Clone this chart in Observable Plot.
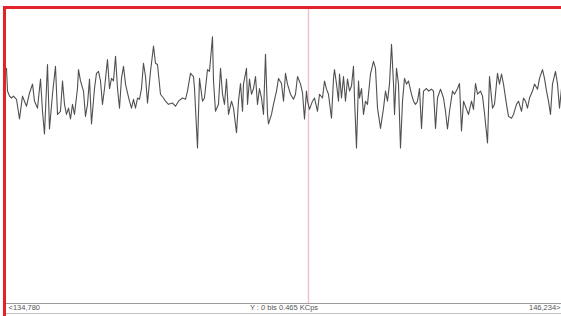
<!DOCTYPE html>
<html>
<head>
<meta charset="utf-8">
<script src="https://cdn.jsdelivr.net/npm/d3@7"></script>
<script src="https://cdn.jsdelivr.net/npm/@observablehq/plot@0.6"></script>
<style>
  html, body { margin: 0; padding: 0; background: #fff; }
  #wrap { position: relative; width: 561px; height: 316px; overflow: hidden; background: #fff; }
  #wrap svg { position: absolute; left: 0; top: 0; }
  #frame { position: absolute; left: 3px; top: 6px; right: -4px; bottom: -4px;
           border-left: 3px solid #e2232a; border-top: 3px solid #e2232a; pointer-events: none; }
  #strip { position: absolute; left: 6px; top: 313px; width: 555px; height: 1px; background: #c4c4c4; }
</style>
</head>
<body>
<div id="wrap"><div id="strip"></div><div id="frame"></div></div>
<script>
// Scan range (x) and intensity range (KCps)
const xRange = [134.780, 146.234];
const yRange = [0, 0.465];
const cursorPos = [141.013];
const leftLabel = "<134,780";
const rightLabel = "146,234>";
const rangeLabel = "Y : 0 bis 0.465 KCps";

const position = [
134.780,134.801,134.842,134.883,134.924,134.986,135.048,135.110,135.151,135.193,
135.255,135.317,135.358,135.420,135.482,135.523,135.564,135.626,135.667,135.729,
135.791,135.833,135.894,135.936,135.977,136.018,136.060,136.101,136.142,136.183,
136.245,136.266,136.307,136.369,136.410,136.452,136.493,136.534,136.596,136.637,
136.679,136.720,136.761,136.803,136.864,136.906,136.947,136.988,137.030,137.071,
137.112,137.153,137.195,137.236,137.277,137.318,137.360,137.401,137.442,137.484,
137.525,137.566,137.607,137.649,137.690,137.752,
137.814,137.855,137.896,137.958,138.020,138.061,138.123,138.206,138.268,138.330,
138.412,138.474,138.515,138.577,138.639,138.660,138.722,138.763,138.825,138.866,
138.928,138.969,139.031,139.052,139.093,139.155,139.197,139.238,139.279,139.320,
139.362,139.424,139.465,139.527,139.568,139.609,139.651,139.671,139.733,139.754,
139.795,139.836,139.878,139.919,139.960,140.001,140.043,140.084,140.125,140.167,
140.187,140.249,140.290,140.352,140.394,140.455,140.497,140.538,140.579,140.641,
140.703,140.744,140.786,140.848,140.889,140.930,140.971,
140.992,141.033,141.095,141.137,141.198,141.240,141.302,141.343,141.384,141.425,
141.487,141.529,141.549,141.591,141.632,141.653,141.694,141.735,141.776,141.818,
141.859,141.900,141.941,141.962,142.003,142.045,142.065,142.107,142.148,142.189,
142.230,142.292,142.354,142.395,142.437,142.499,142.561,142.602,142.643,142.684,
142.726,142.767,142.788,142.829,142.870,142.911,142.953,142.994,143.035,143.076,
143.138,143.180,143.221,143.262,143.303,143.345,143.386,143.448,143.489,143.551,
143.592,143.634,143.675,143.737,143.799,
143.840,143.881,143.923,143.985,144.026,144.088,144.129,144.170,144.212,144.274,
144.315,144.377,144.418,144.459,144.501,144.562,144.604,144.645,144.707,144.748,
144.810,144.851,144.913,144.955,144.996,145.037,145.099,145.140,145.202,145.244,
145.305,145.347,145.409,145.450,145.491,145.532,145.574,145.636,145.677,145.739,
145.780,145.842,145.883,145.925,145.966,146.007,146.048,146.110,146.152,146.193,
146.234
];

const kcps = [
0.372,0.336,0.328,0.325,0.328,0.323,0.292,0.328,0.320,0.312,
0.333,0.347,0.320,0.309,0.355,0.304,0.268,0.378,0.276,0.331,
0.375,0.299,0.304,0.352,0.315,0.299,0.309,0.292,0.315,0.299,
0.340,0.370,0.352,0.336,0.296,0.315,0.355,0.284,0.340,0.364,
0.367,0.352,0.315,0.340,0.386,0.340,0.356,0.352,0.391,0.340,
0.309,0.356,0.375,0.347,0.333,0.320,0.309,0.323,0.309,0.325,
0.323,0.340,0.380,0.359,0.317,0.367,
0.407,0.380,0.378,0.331,0.325,0.320,0.315,0.317,0.312,0.320,
0.325,0.323,0.336,0.364,0.359,0.340,0.246,0.356,0.320,0.325,
0.370,0.367,0.422,0.352,0.304,0.315,0.372,0.331,0.315,0.355,
0.299,0.320,0.309,0.270,0.320,0.348,0.304,0.347,0.372,0.315,
0.355,0.331,0.340,0.359,0.315,0.340,0.325,0.299,0.394,0.299,
0.284,0.299,0.315,0.336,0.356,0.348,0.320,0.364,0.347,0.331,
0.323,0.331,0.359,0.347,0.333,0.292,0.336,
0.320,0.307,0.320,0.325,0.304,0.331,0.325,0.352,0.339,0.331,
0.293,0.356,0.370,0.347,0.320,0.363,0.325,0.359,0.320,0.355,
0.336,0.344,0.375,0.325,0.246,0.352,0.325,0.340,0.299,0.320,
0.315,0.363,0.383,0.372,0.309,0.277,0.309,0.336,0.320,0.347,
0.410,0.347,0.299,0.372,0.347,0.246,0.320,0.356,0.347,0.352,
0.331,0.320,0.315,0.320,0.340,0.277,0.336,0.340,0.336,0.339,
0.336,0.277,0.325,0.339,0.325,
0.304,0.276,0.304,0.336,0.331,0.340,0.348,0.273,0.320,0.307,
0.299,0.320,0.307,0.348,0.331,0.336,0.328,0.301,0.254,0.359,
0.309,0.315,0.364,0.347,0.363,0.347,0.315,0.296,0.293,0.299,
0.315,0.320,0.304,0.325,0.320,0.309,0.325,0.336,0.347,0.339,
0.356,0.370,0.356,0.336,0.320,0.299,0.347,0.367,0.347,0.309,
0.340
];

const data = position.map((p, i) => ({pos: p, v: kcps[i]}));

const chart = Plot.plot({
  width: 561,
  height: 316,
  marginLeft: 6,
  marginRight: 0,
  marginTop: 9,
  marginBottom: 13,
  style: {background: "transparent", fontFamily: "Liberation Sans, Arial, sans-serif"},
  x: {domain: xRange, axis: null},
  y: {domain: yRange, axis: null},
  marks: [
    Plot.ruleX(cursorPos, {stroke: "#f0bfcb", strokeWidth: 1.4}),
    Plot.ruleY([yRange[0]], {stroke: "#9c9c9c", strokeWidth: 1}),
    Plot.line(data, {x: "pos", y: "v", stroke: "#505050", strokeWidth: 1.1}),
    Plot.text([leftLabel], {x: () => xRange[0], text: d => d, frameAnchor: "bottom", dy: 6.5, dx: 2, textAnchor: "start", fontSize: 7.5, fill: "#555"}),
    Plot.text([rangeLabel], {text: d => d, frameAnchor: "bottom", dy: 6.5, textAnchor: "middle", fontSize: 7.5, fill: "#555"}),
    Plot.text([rightLabel], {x: () => xRange[1], text: d => d, frameAnchor: "bottom", dy: 6.5, dx: -1, textAnchor: "end", fontSize: 7.5, fill: "#555"})
  ]
});
document.getElementById("wrap").prepend(chart);
</script>
</body>
</html>
